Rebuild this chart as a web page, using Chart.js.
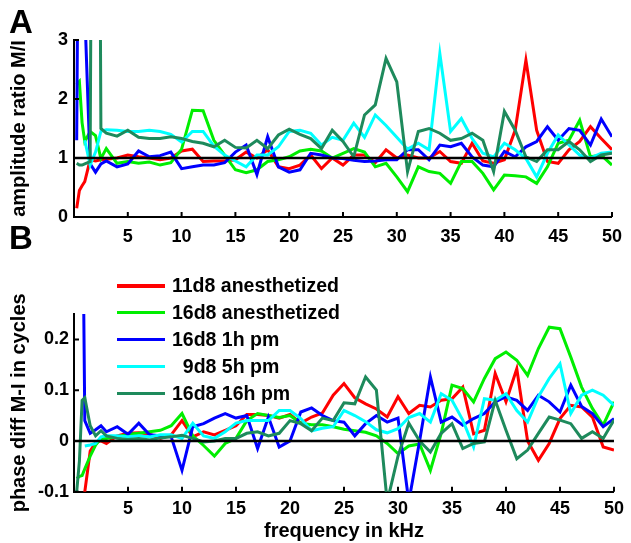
<!DOCTYPE html>
<html>
<head>
<meta charset="utf-8">
<title>Amplitude ratio and phase difference M/I</title>
<script src="https://cdn.jsdelivr.net/npm/chart.js@4.4.1/dist/chart.umd.min.js"></script>
<style>
  body { margin: 0; background: #fff; }
  #page { position: relative; width: 631px; height: 543px; overflow: hidden;
          font-family: 'Liberation Sans', Arial, sans-serif; font-weight: bold; color: #000; }
  canvas { position: absolute; left: 0; }
  #chartA { top: 0; }
  #chartB { top: 250px; }
  .panel-label { position: absolute; left: 9px; font-size: 33px; line-height: 1; }
  #legend { position: absolute; left: 117px; top: 272.6px; }
  .legend-item { display: flex; align-items: center; height: 26.8px; font-size: 19.5px; white-space: pre; }
  .legend-line { width: 48px; height: 3.3px; margin-right: 7px; }
</style>
</head>
<body>
<div id="page">
  <canvas id="chartA" width="631" height="250"></canvas>
  <canvas id="chartB" width="631" height="293"></canvas>
  <div class="panel-label" style="top:5px">A</div>
  <div class="panel-label" style="top:221px">B</div>
  <div id="legend"></div>
</div>
<script>
// frequency in kHz (shared by all series)
const freq = [0.25, 0.5, 0.75, 1, 1.5, 2, 2.5, 3,
  4, 5, 6, 7, 8, 9, 10, 11, 12, 13,
  14, 15, 16, 17, 18, 19, 20, 21, 22, 23,
  24, 25, 26, 27, 28, 29, 30, 31, 32, 33,
  34, 35, 36, 37, 38, 39, 40, 41, 42, 43,
  44, 45, 46, 47, 48, 49, 50];

const seriesNames = ['11d8 anesthetized', '16d8 anesthetized', '16d8 1h pm', '  9d8 5h pm', '16d8 16h pm'];
const seriesColors = ['#ff0000', '#00ee00', '#0000ff', '#00ffff', '#1e8a5c'];

const xMin = 0;
const xMax = 50;
const xTicks = [5, 10, 15, 20, 25, 30, 35, 40, 45, 50];

// panel A: amplitude ratio M/I
const ampTicks = [0, 1, 2, 3];
const ampRef = 1;
const ampRed = [0.15, 0.45, 0.53, 0.6, 0.97, 0.95, 0.97, 0.98,
  1.0, 1.05, 1.02, 1.0, 0.97, 1.0, 1.12, 1.15, 0.94, 0.95,
  0.95, 0.97, 1.1, 1.0, 1.14, 0.85, 0.82, 0.88, 1.05, 0.82,
  1.0, 0.88, 1.05, 1.05, 0.92, 1.14, 1.0, 1.05, 1.0, 1.0,
  1.11, 0.94, 0.91, 1.25, 0.95, 0.91, 0.97, 1.47, 2.66, 1.47,
  0.94, 0.91, 1.14, 1.28, 1.53, 1.33, 1.14];
const ampGreen = [2.25, 2.3, 1.6, 1.28, 1.45, 1.38, 0.99, 1.16,
  0.91, 0.94, 0.91, 0.93, 0.88, 0.92, 1.15, 1.81, 1.8, 1.3,
  1.05, 0.8, 0.75, 0.8, 0.94, 0.97, 1.02, 1.12, 1.15, 1.12,
  1.0, 1.08, 1.16, 1.1, 0.85, 0.91, 0.68, 0.43, 0.85, 0.77,
  0.74, 0.57, 0.94, 0.94, 0.74, 0.46, 0.71, 0.7, 0.68, 0.57,
  0.85, 1.25, 1.3, 1.64, 1.02, 1.05, 0.88];
const ampBlue = [1.3, 8, 8, 3.5, 0.9, 0.76, 0.9, 0.95,
  0.85, 0.9, 1.12, 1.02, 1.04, 1.1, 0.82, 0.85, 0.88, 0.88,
  0.92, 1.1, 1.22, 0.72, 1.36, 0.85, 0.76, 0.8, 1.08, 1.05,
  1.0, 0.99, 0.96, 0.94, 0.95, 0.97, 0.97, 1.14, 1.14, 0.97,
  1.22, 1.19, 1.25, 1.02, 0.88, 0.85, 1.11, 1.02, 1.19, 1.28,
  1.53, 1.3, 1.5, 1.47, 1.22, 1.66, 1.36];
const ampCyan = [null, null, null, 1.3, 0.88, 1.1, 1.45, 1.48,
  1.47, 1.45, 1.45, 1.47, 1.45, 1.4, 1.27, 1.45, 1.45, 1.2,
  1.05, 0.95, 0.85, 1.05, 1.05, 1.19, 1.45, 1.47, 1.42, 1.22,
  1.35, 1.3, 1.59, 1.35, 1.73, 1.55, 1.35, 1.15, 1.25, 1.14,
  2.77, 1.45, 1.67, 1.33, 1.08, 1.02, 1.25, 1.14, 0.99, 0.68,
  1.08, 1.39, 1.22, 1.05, 1.0, 1.08, 1.1];
const ampDkGreen = [0.91, 0.88, 0.88, 0.9, 0.94, 20, 1.5, 1.42,
  1.37, 1.47, 1.35, 1.33, 1.33, 1.36, 1.33, 1.28, 1.25, 1.19,
  1.3, 1.18, 1.17, 1.3, 1.16, 1.39, 1.49, 1.4, 1.33, 1.16,
  1.47, 1.28, 1.02, 1.73, 1.9, 2.69, 2.29, 0.77, 1.45, 1.5,
  1.42, 1.3, 1.33, 1.42, 1.3, 0.77, 1.79, 1.47, 1.02, 0.94,
  1.14, 1.14, 1.28, 1.14, 0.94, 1.05, 1.08];

// panel B: phase diff M-I in cycles
const phaseTicks = [-0.1, 0, 0.1, 0.2];
const phaseRef = 0;
const phRed = [-0.1, -0.13, -0.14, -0.1, -0.02, -0.003, 0.0, -0.005,
  0.01, 0.015, 0.016, 0.013, 0.005, 0.012, 0.04, 0.008, 0.018, 0.012,
  0.021, 0.03, 0.052, 0.052, 0.05, 0.045, 0.052, 0.035, 0.047, 0.055,
  0.09, 0.113, 0.085, 0.073, 0.063, 0.047, 0.087, 0.054, 0.07, 0.067,
  0.08, 0.083, 0.106, 0.014, 0.021, 0.133, 0.077, 0.142, 0.0, -0.038,
  -0.005, 0.044, 0.07, 0.067, 0.047, -0.012, -0.018];
const phGreen = [-0.074, -0.07, -0.068, -0.055, -0.03, -0.008, 0.005, 0.005,
  0.008, 0.013, 0.015, 0.018, 0.021, 0.03, 0.054, 0.01, -0.009, -0.03,
  -0.005, 0.005, 0.04, 0.054, 0.05, 0.046, 0.05, 0.035, 0.032, 0.032,
  0.028, 0.023, 0.02, 0.017, 0.01, -0.005, -0.025, -0.01, -0.006, -0.058,
  0.015, 0.11, 0.103, 0.077, 0.123, 0.162, 0.175, 0.159, 0.129, 0.182,
  0.224, 0.221, 0.165, 0.106, 0.064, 0.031, 0.077];
const phBlue = [1.0, 1.5, 0.6, 0.04, 0.015, 0.022, 0.03, 0.018,
  0.028, 0.013, 0.035, 0.012, 0.01, 0.008, -0.058, 0.028, 0.034, 0.045,
  0.054, 0.045, 0.05, -0.015, 0.047, -0.012, 0.0, 0.057, 0.065, 0.05,
  0.04, 0.037, 0.01, 0.034, 0.05, 0.037, 0.045, -0.12, 0.0, 0.126,
  0.037, 0.047, 0.031, 0.044, 0.054, 0.077, 0.087, 0.08, 0.06, 0.09,
  0.077, 0.057, 0.11, 0.068, 0.054, 0.028, 0.044];
const phCyan = [null, null, null, -0.01, -0.008, -0.005, 0.008, 0.01,
  0.01, 0.008, 0.01, 0.008, 0.012, 0.012, 0.005, 0.035, 0.01, 0.005,
  0.018, 0.035, 0.04, 0.04, 0.04, 0.06, 0.06, 0.044, 0.02, 0.025,
  0.028, 0.06, 0.05, 0.038, 0.022, 0.016, 0.024, 0.046, 0.054, 0.037,
  0.093, 0.08, 0.041, -0.012, 0.083, 0.08, 0.093, 0.06, 0.037, 0.087,
  0.123, 0.152, 0.054, 0.09, 0.1, 0.09, 0.07];
const phDkGreen = [-0.1, -0.04, 0.08, 0.085, 0.03, 0.01, 0.02, 0.01,
  0.005, 0.003, 0.005, 0.002, 0.006, 0.008, 0.011, 0.005, -0.002, 0.0,
  0.005, 0.005, 0.015, 0.018, 0.01, 0.015, 0.04, 0.034, 0.02, 0.045,
  0.04, 0.075, 0.073, 0.126, 0.1, -0.12, -0.03, 0.035, 0.0, -0.022,
  0.015, 0.034, -0.015, -0.005, -0.002, 0.08, 0.021, -0.035, -0.018, 0.015,
  0.047, 0.041, 0.034, 0.005, 0.018, 0.005, 0.041];

Chart.defaults.font.family = "'Liberation Sans', Arial, sans-serif";
Chart.defaults.font.weight = 'bold';
Chart.defaults.color = '#000';

// small tick marks pointing into the plot, like the original figure
const inwardTicks = {
  id: 'inwardTicks',
  afterDraw(chart) {
    const { ctx, chartArea, scales: { x, y } } = chart;
    ctx.save();
    ctx.strokeStyle = '#000';
    ctx.lineWidth = 2;
    ctx.beginPath();
    x.ticks.forEach(t => {
      const px = x.getPixelForValue(t.value);
      ctx.moveTo(px, chartArea.bottom);
      ctx.lineTo(px, chartArea.bottom - 5);
    });
    y.ticks.forEach(t => {
      const py = y.getPixelForValue(t.value);
      ctx.moveTo(chartArea.left, py);
      ctx.lineTo(chartArea.left + 5, py);
    });
    ctx.stroke();
    ctx.restore();
  }
};

function buildDatasets(seriesList, refLevel) {
  const sets = seriesList.map((vals, i) => ({
    label: seriesNames[i],
    data: freq.map((f, j) => ({ x: f, y: vals[j] })),
    borderColor: seriesColors[i],
    borderWidth: 3,
    pointRadius: 0,
    tension: 0,
    order: seriesList.length - i   // last series drawn on top
  }));
  // black reference line, drawn over everything
  sets.push({
    label: 'reference',
    data: [{ x: xMin, y: refLevel }, { x: xMax, y: refLevel }],
    borderColor: '#000',
    borderWidth: 2.5,
    pointRadius: 0,
    order: 0
  });
  return sets;
}

function makePanel(id, datasets, cfg) {
  return new Chart(document.getElementById(id), {
    type: 'line',
    data: { datasets: datasets },
    options: {
      responsive: false,
      animation: false,
      layout: { padding: { top: cfg.padTop, right: 13, left: 0, bottom: 0 } },
      plugins: { legend: { display: false }, tooltip: { enabled: false } },
      scales: {
        x: {
          type: 'linear',
          min: xMin,
          max: xMax,
          afterBuildTicks: s => { s.ticks = xTicks.map(v => ({ value: v })); },
          afterFit: s => { s.height = cfg.xAxisHeight; },
          grid: { display: false, drawTicks: false },
          border: { color: '#000', width: 2 },
          ticks: {
            font: { size: 18, weight: 'bold' },
            padding: cfg.xTickPad,
            maxRotation: 0,
            autoSkip: false,
            callback: v => String(v)
          },
          title: {
            display: !!cfg.xTitle,
            text: cfg.xTitle || '',
            font: { size: 20, weight: 'bold' },
            padding: { top: 0, bottom: 0 }
          }
        },
        y: {
          type: 'linear',
          min: cfg.yMin,
          max: cfg.yMax,
          afterBuildTicks: s => { s.ticks = cfg.yTicks.map(v => ({ value: v })); },
          afterFit: s => { s.width = 74; },
          grid: { display: false, drawTicks: false },
          border: { color: '#000', width: 2 },
          ticks: {
            font: { size: 18, weight: 'bold' },
            padding: cfg.yTickPad,
            callback: v => String(v)
          },
          title: {
            display: true,
            text: cfg.yTitle,
            font: { size: 20, weight: 'bold' },
            padding: { top: 7, bottom: 0 }
          }
        }
      }
    },
    plugins: [inwardTicks]
  });
}

makePanel('chartA', buildDatasets([ampRed, ampGreen, ampBlue, ampCyan, ampDkGreen], ampRef), {
  padTop: 40, xAxisHeight: 33, xTickPad: 9, yTickPad: 6,
  yMin: 0, yMax: 3, yTicks: ampTicks,
  yTitle: 'amplitude ratio M/I'
});

makePanel('chartB', buildDatasets([phRed, phGreen, phBlue, phCyan, phDkGreen], phaseRef), {
  padTop: 64, xAxisHeight: 51.3, xTickPad: 7, yTickPad: 5,
  yMin: -0.1, yMax: 0.25, yTicks: phaseTicks,
  yTitle: 'phase diff M-I in cycles', xTitle: 'frequency in kHz'
});

// legend
const legend = document.getElementById('legend');
seriesNames.forEach((name, i) => {
  const item = document.createElement('div');
  item.className = 'legend-item';
  const line = document.createElement('span');
  line.className = 'legend-line';
  line.style.background = seriesColors[i];
  const text = document.createElement('span');
  text.textContent = name;
  item.appendChild(line);
  item.appendChild(text);
  legend.appendChild(item);
});
</script>
</body>
</html>
